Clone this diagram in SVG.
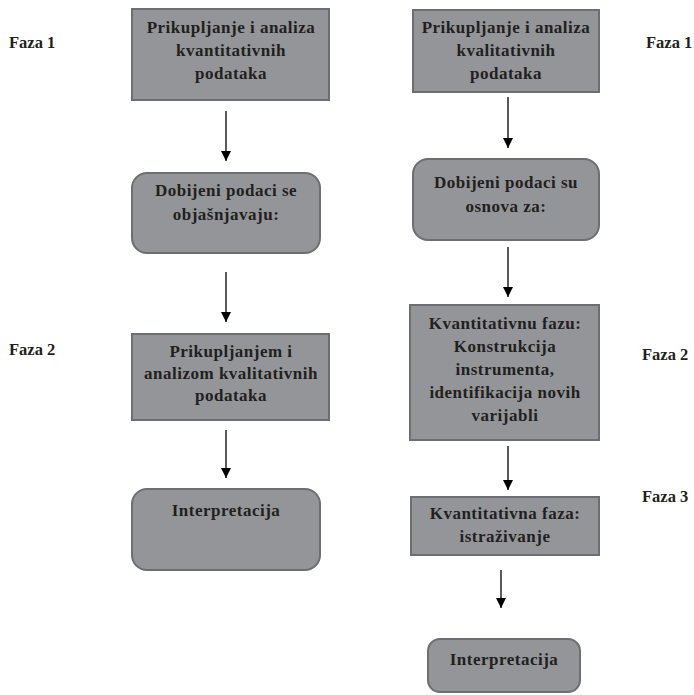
<svg xmlns="http://www.w3.org/2000/svg" width="694" height="695" viewBox="0 0 694 695">
<defs>
<marker id="ah" viewBox="0 0 10 10" refX="10" refY="5" markerWidth="10" markerHeight="10" markerUnits="userSpaceOnUse" orient="auto">
<path d="M0,0 L10,5 L0,10 Z" fill="#000"/>
</marker>
<style>
.box{fill:#939598;stroke:#6d6e71;stroke-width:2}
.t{font-family:"Liberation Serif","Times New Roman",serif;font-weight:bold;font-size:17px;letter-spacing:0.5px;fill:#231f20;text-anchor:middle}
.f{font-family:"Liberation Serif","Times New Roman",serif;font-weight:bold;font-size:16.5px;fill:#231f20}
.c{stroke:#000;stroke-width:1.3;fill:none;marker-end:url(#ah)}
</style>
</defs>
<rect width="694" height="695" fill="#fff"/>
<g id="labels">
<text class="f" x="9" y="48">Faza 1</text>
<text class="f" x="9" y="355">Faza 2</text>
<text class="f" x="646" y="48">Faza 1</text>
<text class="f" x="642" y="360">Faza 2</text>
<text class="f" x="642" y="502">Faza 3</text>
</g>
<g id="connectors">
<line class="c" x1="226" y1="111" x2="226" y2="161"/>
<line class="c" x1="226" y1="272" x2="226" y2="322"/>
<line class="c" x1="226" y1="430" x2="226" y2="478"/>
<line class="c" x1="508" y1="97" x2="508" y2="148"/>
<line class="c" x1="508" y1="247" x2="508" y2="297"/>
<line class="c" x1="508" y1="446" x2="508" y2="490"/>
<line class="c" x1="501" y1="570" x2="501" y2="608"/>
</g>
<g id="L1">
<rect class="box" x="132" y="9" width="197" height="91"/>
<text class="t" x="231" y="33">Prikupljanje i analiza</text>
<text class="t" x="231" y="56">kvantitativnih</text>
<text class="t" x="231" y="79">podataka</text>
</g>
<g id="L2">
<rect class="box" x="132" y="173" width="188" height="80" rx="15"/>
<text class="t" x="226" y="196">Dobijeni podaci se</text>
<text class="t" x="226" y="220">objašnjavaju:</text>
</g>
<g id="L3">
<rect class="box" x="132" y="334" width="197" height="86"/>
<text class="t" x="231" y="357">Prikupljanjem i</text>
<text class="t" x="231" y="379">analizom kvalitativnih</text>
<text class="t" x="231" y="401">podataka</text>
</g>
<g id="L4">
<rect class="box" x="132" y="489" width="188" height="81" rx="15"/>
<text class="t" x="226" y="516">Interpretacija</text>
</g>
<g id="R1">
<rect class="box" x="413" y="10" width="186" height="82"/>
<text class="t" x="506" y="33">Prikupljanje i analiza</text>
<text class="t" x="506" y="56">kvalitativnih</text>
<text class="t" x="506" y="79">podataka</text>
</g>
<g id="R2">
<rect class="box" x="413" y="159" width="186" height="81" rx="15"/>
<text class="t" x="506" y="188">Dobijeni podaci su</text>
<text class="t" x="506" y="212">osnova za:</text>
</g>
<g id="R3">
<rect class="box" x="410" y="305" width="189" height="135"/>
<text class="t" x="505" y="329">Kvantitativnu fazu:</text>
<text class="t" x="505" y="352">Konstrukcija</text>
<text class="t" x="505" y="375">instrumenta,</text>
<text class="t" x="505" y="398">identifikacija novih</text>
<text class="t" x="505" y="421">varijabli</text>
</g>
<g id="R4">
<rect class="box" x="411" y="497" width="188" height="58"/>
<text class="t" x="505" y="519">Kvantitativna faza:</text>
<text class="t" x="505" y="542">istraživanje</text>
</g>
<g id="R5">
<rect class="box" x="428" y="639" width="152" height="53" rx="12"/>
<text class="t" x="504" y="665">Interpretacija</text>
</g>
</svg>
